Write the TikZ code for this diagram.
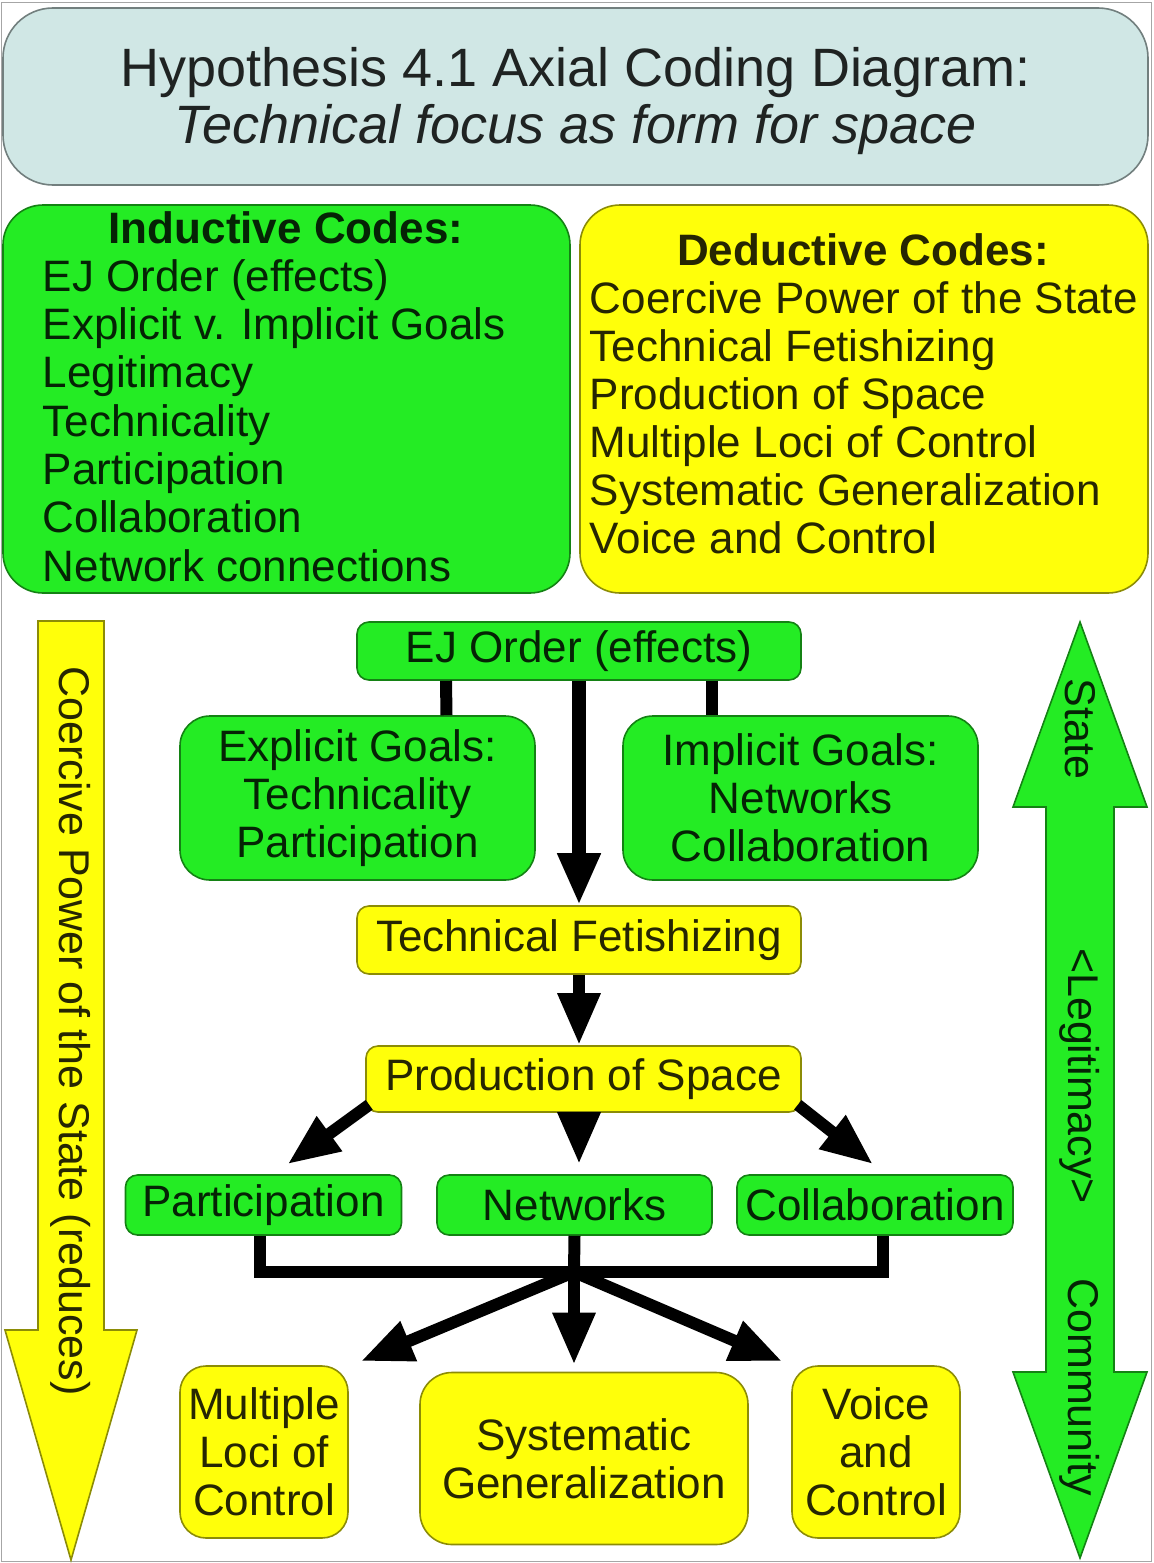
\documentclass[tikz,border=0pt]{standalone}
\usepackage{fontspec}
\setmainfont{Liberation Sans}
\usetikzlibrary{arrows.meta}
\definecolor{cgreen}{HTML}{24EC24}
\definecolor{cyellow}{HTML}{FFFF0A}
\definecolor{cpale}{HTML}{D0E7E5}
\tikzset{
  every picture/.style={font=\fontsize{22}{24}\selectfont, line width=0.8pt},
  box/.style={draw=#1!55!black, fill=#1, text=#1!15!black, rounded corners=6pt, align=center, inner sep=0pt},
  box/.default=cgreen,
  link/.style={draw=black, line width=6pt},
  arrow/.style={link, -{Triangle[length=26pt, width=20pt]}},
  vtext/.style={rotate=-90, font=\fontsize{21.5}{24}\selectfont},
}

\begin{document}
\begin{tikzpicture}[x=0.5pt, y=-0.5pt,
  wide/.style={box=#1, minimum width=222pt, minimum height=30pt},
  small/.style={box=cgreen, minimum width=138pt, minimum height=30pt},
  tall/.style={box=cyellow, rounded corners=13pt, minimum height=86pt},
  item/.style={anchor=base west, text=#1!15!black, inner sep=0pt}]
  \useasboundingbox (0,0) rectangle (1153,1563);
  \draw[gray!70] (1.5,2.5) rectangle (1151.5,1561.5);
  % header
  \node[box=cpale, rounded corners=25pt, minimum width=572.5pt, minimum height=88.5pt,
    font=\fontsize{27}{28.5}\selectfont] (title) at (575.5,96.5)
    {\rule{0pt}{24.5pt}Hypothesis 4.1 Axial Coding Diagram:\\\textit{Technical focus as form for space}};
  % code lists
  \node[box=cgreen, rounded corners=20pt, minimum width=283.5pt, minimum height=194pt] (induct) at (286.5,399) {};
  \node[box=cyellow, rounded corners=20pt, minimum width=284pt, minimum height=194pt] (deduct) at (864,399) {};
  \node[anchor=base, font=\fontsize{22}{24}\selectfont\bfseries, text=cgreen!15!black] (indhead) at (286,243) {Inductive Codes:};
  \node[anchor=base, font=\fontsize{22}{24}\selectfont\bfseries, text=cyellow!15!black] (dedhead) at (863,265) {Deductive Codes:};
  \foreach \t [count=\i] in {EJ Order (effects), Explicit v. Implicit Goals, Legitimacy, Technicality, Participation, Collaboration, Network connections}
    \node[item=cgreen] (ind\i) at (42,{243+48.3*\i}) {\t};
  \foreach \t [count=\i] in {Coercive Power of the State, Technical Fetishizing, Production of Space, Multiple Loci of Control, Systematic Generalization, Voice and Control}
    \node[item=cyellow] (ded\i) at (589,{265+48*\i}) {\t};
  % side arrows
  \filldraw[fill=cyellow, draw=cyellow!55!black] (38,621) -- (104,621) -- (104,1330) -- (137,1330)
    -- (71,1560) -- (5,1330) -- (38,1330) -- cycle;
  \filldraw[fill=cgreen, draw=cgreen!55!black] (1046,807) -- (1013,807) -- (1080,622) -- (1147,807)
    -- (1114,807) -- (1114,1372) -- (1147,1372) -- (1080,1558) -- (1013,1372) -- (1046,1372) -- cycle;
  \node[vtext, text=cyellow!15!black] (coercive) at (71,1031) {Coercive Power of the State (reduces)};
  \node[vtext, text=cgreen!15!black] (state) at (1080,729) {State};
  \node[vtext, text=cgreen!15!black] (legit) at (1080,1076) {<Legitimacy>};
  \node[vtext, text=cgreen!15!black] (community) at (1080,1387) {Community};
  % flow
  \node[wide=cgreen, minimum height=29pt] (ej) at (579,651) {EJ Order (effects)};
  \node[box=cgreen, rounded corners=15pt, minimum width=177.5pt, minimum height=82pt] (explicit) at (357.5,798)
    {Explicit Goals:\\Technicality\\Participation};
  \node[box=cgreen, rounded corners=15pt, minimum width=177.5pt, minimum height=82pt] (implicit) at (800.5,798)
    {Implicit Goals:\\Networks\\Collaboration};
  \node[wide=cyellow, minimum height=34pt] (techfet) at (579,940) {Technical Fetishizing};
  \node[wide=cyellow, minimum width=217.5pt, minimum height=33pt] (prodspace) at (583.5,1079) {Production of Space};
  \node[small] (partic) at (263.5,1205) {Participation};
  \node[small, minimum width=137.5pt] (networks) at (574.5,1205) {Networks};
  \node[small] (collab) at (875,1205) {Collaboration};
  \node[tall, minimum width=84pt] (multiloci) at (264,1452) {Multiple\\Loci of\\Control};
  \node[tall, minimum width=164pt, rounded corners=16pt] (sysgen) at (584,1458.5) {Systematic\\Generalization};
  \node[tall, minimum width=84pt] (voice) at (876,1452) {Voice\\and\\Control};
  \coordinate (hub) at (574,1272);
  \draw[link] ([xshift=-66.5pt]ej.south) -- ([xshift=44.5pt]explicit.north);
  \draw[link] ([xshift=66.5pt]ej.south) -- ([xshift=-44.25pt]implicit.north);
  \draw[arrow, line width=7pt] (ej) -- (techfet);
  \draw[arrow] (techfet.south) -- (techfet.south |- prodspace.north);
  \draw[arrow] ([xshift=2pt, yshift=4pt]prodspace.south west) -- ([xshift=12pt, yshift=5pt]partic.north);
  \draw[arrow, shorten >=5pt] (prodspace.south -| techfet.south) -- (networks.north -| techfet.south);
  \draw[arrow] ([xshift=-2pt, yshift=4pt]prodspace.south east) -- ([xshift=-1pt, yshift=5pt]collab.north);
  \draw[link] ([xshift=-2pt]partic.south) |- (hub) -| ([xshift=4pt]collab.south);
  \draw[link] (networks.south) -- (hub);
  \draw[arrow] (hub) -- ([xshift=6pt, yshift=2pt]multiloci.north east);
  \draw[arrow, shorten >=3.5pt] (hub) -- (hub |- sysgen.north);
  \draw[arrow] (hub) -- ([xshift=-4.5pt, yshift=2pt]voice.north west);
\end{tikzpicture}
\end{document}
